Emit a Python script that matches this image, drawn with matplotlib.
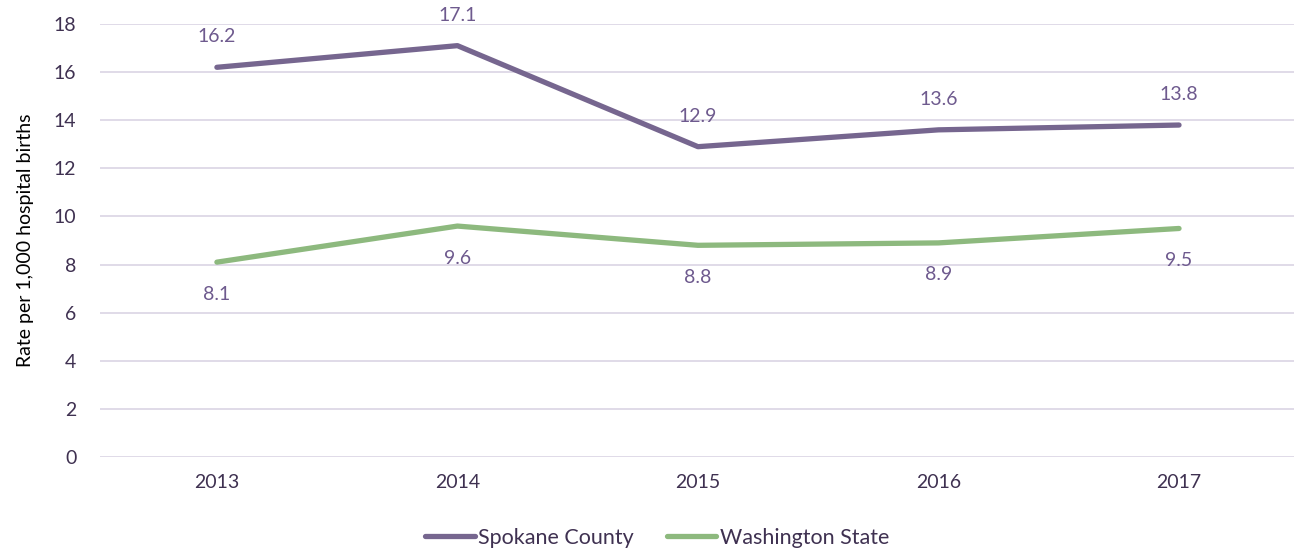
import matplotlib
matplotlib.use('Agg')
import matplotlib.pyplot as plt

# Chart data
years = ['2013', '2014', '2015', '2016', '2017']
spokane = [16.2, 17.1, 12.9, 13.6, 13.8]
washington = [8.1, 9.6, 8.8, 8.9, 9.5]
y_ticks = [0, 2, 4, 6, 8, 10, 12, 14, 16, 18]

purple = '#76668F'
green = '#8DB97E'
label_color = '#6E5A8E'
text_color = '#3F3151'
grid_color = '#DDD8E6'

plt.rcParams['font.family'] = ['Lato', 'DejaVu Sans']
fs = 14

fig = plt.figure(figsize=(12.94, 5.53), dpi=100)
ax = fig.add_axes([100 / 1294, 1 - 457 / 553, 1 - 100 / 1294, (457 - 24) / 553])

x = list(range(len(years)))
ax.plot(x, spokane, color=purple, lw=3.8, solid_capstyle='round', label='Spokane County', zorder=3)
ax.plot(x, washington, color=green, lw=3.8, solid_capstyle='round', label='Washington State', zorder=3)

# Data labels: above for Spokane, below for Washington
for xi, v in zip(x, spokane):
    ax.annotate(f"{v:.1f}", (xi, v), xytext=(0, 22), textcoords='offset points',
                ha='center', va='center', fontsize=fs, color=label_color)
for xi, v in zip(x, washington):
    ax.annotate(f"{v:.1f}", (xi, v), xytext=(0, -23), textcoords='offset points',
                ha='center', va='center', fontsize=fs, color=label_color)

ax.set_xlim(-0.486, 4.478)
ax.set_ylim(0, 18)
ax.set_yticks(y_ticks)
ax.set_xticks(x)
ax.set_xticklabels(years)
ax.tick_params(axis='both', length=0, labelsize=fs, colors=text_color)
ax.tick_params(axis='y', pad=17)
ax.tick_params(axis='x', pad=12)

ax.grid(axis='y', color=grid_color, lw=1.3)
ax.set_axisbelow(True)
for s in ax.spines.values():
    s.set_visible(False)

ax.set_ylabel("Rate per 1,000 hospital births", fontsize=fs, color='#000000', labelpad=14)

fig.legend(loc='center', bbox_to_anchor=(657 / 1294, 1 - 538 / 553), ncol=2, frameon=False,
           fontsize=15.5, handlelength=2.3, handletextpad=0.15, columnspacing=1.55,
           labelcolor=text_color)

fig.savefig('out.png', dpi=100)
